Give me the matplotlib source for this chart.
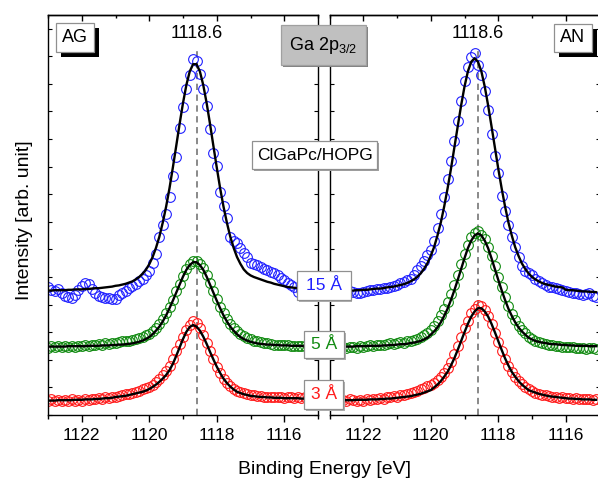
import numpy as np
import matplotlib
matplotlib.use("Agg")
import matplotlib.pyplot as plt
from matplotlib.patches import Rectangle
from matplotlib.ticker import MultipleLocator, FormatStrFormatter

plt.rcParams['font.family'] = ['Liberation Sans', 'DejaVu Sans']
plt.rcParams['mathtext.fontset'] = 'custom'
plt.rcParams['mathtext.rm'] = 'Liberation Sans'
plt.rcParams['mathtext.it'] = 'Liberation Sans:italic'

# ---------------- data ----------------
# binding energy grid (0.1 eV steps), 1123.0 -> 1115.1 eV
energy = np.round(np.arange(1123.0, 1115.05, -0.1), 1)
peak_energy = 1118.6

# AG panel
ag_3A_data = [3.4,3.9,3.5,3.8,3.4,3.7,3.5,3.9,3.6,3.8,
              3.6,4.0,3.8,4.1,3.9,4.2,4.0,4.4,4.3,4.6,
              4.5,4.8,4.9,5.2,5.3,5.6,5.8,6.1,6.4,6.7,
              7.1,7.6,8.2,9.0,9.9,11.0,12.3,13.9,15.9,17.7,
              19.6,21.2,22.6,23.4,23.1,21.8,20.0,18.0,15.9,13.9,
              12.0,10.4,9.0,8.0,7.2,6.6,6.1,5.8,5.5,5.3,
              5.1,4.9,4.8,4.7,4.6,4.6,4.5,4.6,4.4,4.5,
              4.3,4.5,4.4,4.3,4.4,4.2,4.4,4.3,4.2,4.3]
ag_3A_fit = [3.6,3.6,3.6,3.7,3.7,3.7,3.7,3.7,3.8,3.8,
             3.8,3.9,3.9,3.9,4.0,4.0,4.1,4.2,4.2,4.3,
             4.5,4.6,4.7,4.8,5.0,5.2,5.4,5.6,5.8,6.1,
             6.5,7.0,7.6,8.3,9.1,10.0,11.2,12.8,14.8,16.9,
             19.0,20.8,22.0,22.5,22.1,21.1,19.6,17.8,15.8,13.9,
             12.1,10.5,9.1,8.0,7.1,6.4,5.8,5.5,5.2,5.0,
             4.8,4.7,4.6,4.5,4.5,4.4,4.4,4.3,4.3,4.3,
             4.2,4.2,4.2,4.2,4.2,4.1,4.1,4.1,4.1,4.1]
ag_5A_data = [16.8,17.2,17.0,17.3,17.1,17.2,16.9,17.3,17.1,17.3,
              17.2,17.5,17.3,17.6,17.4,17.7,17.6,17.9,17.8,18.0,
              18.1,18.2,18.4,18.5,18.6,18.8,19.0,19.3,19.6,20.0,
              20.3,20.9,21.8,22.8,24.0,25.5,27.1,28.8,30.9,32.8,
              34.8,36.6,37.8,38.6,38.4,37.8,36.7,35.0,33.0,30.9,
              28.9,27.1,25.5,24.1,22.8,21.8,20.9,20.2,19.7,19.3,
              18.9,18.6,18.4,18.2,18.0,17.9,17.8,17.6,17.6,17.5,
              17.4,17.4,17.3,17.3,17.2,17.3,17.2,17.2,17.1,17.2]
ag_5A_fit = [17.1,17.1,17.1,17.1,17.1,17.1,17.2,17.2,17.2,17.2,
             17.2,17.2,17.3,17.3,17.3,17.3,17.4,17.4,17.4,17.5,
             17.5,17.6,17.6,17.7,17.8,17.9,18.1,18.3,18.6,19.0,
             19.5,20.2,21.1,22.1,23.4,24.9,26.7,28.6,30.6,32.6,
             34.6,36.3,37.5,38.2,38.2,37.5,36.3,34.6,32.6,30.6,
             28.6,26.7,24.9,23.4,22.1,21.1,20.2,19.5,19.0,18.6,
             18.3,18.1,17.9,17.8,17.7,17.6,17.6,17.5,17.5,17.4,
             17.4,17.4,17.3,17.3,17.3,17.3,17.2,17.2,17.2,17.2]
ag_15A_data = [32.0,31.3,31.0,31.4,30.6,29.8,29.5,29.2,30.0,31.2,
               32.2,33.0,32.7,31.6,30.4,29.7,29.4,29.3,29.2,29.0,
               29.1,29.9,30.5,31.1,31.8,32.2,32.8,33.5,34.1,34.9,
               36.0,38.0,40.2,44.5,47.4,50.3,54.6,59.8,64.5,71.8,
               77.0,81.6,85.0,88.9,88.4,85.3,81.4,77.3,71.6,65.6,
               62.3,55.8,52.3,49.2,44.6,43.6,43.0,41.8,40.4,39.6,
               38.0,37.7,37.4,37.0,36.6,36.2,35.8,35.4,35.0,34.3,
               33.7,33.0,32.5,32.0,30.8,31.2,31.0,31.2,31.0,31.2]
ag_15A_fit = [31.1,31.1,31.2,31.2,31.2,31.2,31.3,31.3,31.4,31.4,
              31.4,31.5,31.5,31.6,31.7,31.7,31.8,31.9,32.0,32.1,
              32.3,32.4,32.6,32.8,33.1,33.4,33.9,34.5,35.3,36.3,
              37.7,39.5,41.8,44.6,48.1,52.1,56.7,61.9,67.3,72.8,
              78.0,82.5,85.9,87.7,87.7,85.9,82.5,78.0,72.8,67.3,
              61.9,56.7,52.1,48.1,44.6,41.8,39.5,37.8,36.4,35.5,
              34.9,34.5,34.2,33.9,33.6,33.3,33.1,32.8,32.6,32.4,
              32.2,32.0,31.9,31.8,31.7,31.6,31.5,31.5,31.4,31.4]

# AN panel
an_3A_data = [3.5,3.9,3.6,3.4,3.8,3.5,3.9,3.7,3.4,3.8,
              3.6,4.0,3.8,4.1,3.9,4.3,4.1,4.4,4.5,4.7,
              4.6,4.9,5.1,5.3,5.5,5.8,6.1,6.5,6.8,7.2,
              7.5,8.1,8.8,9.6,10.6,11.8,13.3,15.2,17.3,19.5,
              21.7,23.6,25.4,26.6,27.4,27.2,26.2,24.7,22.7,20.5,
              18.2,16.0,14.0,12.2,10.7,9.5,8.5,7.7,7.0,6.4,
              6.0,5.6,5.3,5.1,4.9,4.7,4.5,4.6,4.3,4.4,
              4.2,4.3,4.1,4.2,4.0,4.1,3.9,4.0,3.8,3.9]
an_3A_fit = [3.7,3.7,3.7,3.7,3.7,3.7,3.7,3.7,3.8,3.8,
             3.8,3.8,3.9,3.9,3.9,4.0,4.0,4.1,4.1,4.2,
             4.3,4.4,4.5,4.6,4.7,4.9,5.1,5.3,5.6,5.9,
             6.2,6.9,7.6,8.5,9.6,10.8,12.4,14.2,16.3,18.5,
             20.7,22.8,24.6,25.9,26.7,26.7,25.9,24.6,22.8,20.7,
             18.5,16.3,14.2,12.4,10.8,9.6,8.5,7.6,6.9,6.2,
             5.9,5.6,5.3,5.1,4.9,4.7,4.6,4.5,4.4,4.3,
             4.2,4.1,4.1,4.0,4.0,3.9,3.9,3.9,3.8,3.8]
an_5A_data = [17.3,16.9,17.2,16.8,17.0,16.7,17.1,16.9,16.8,17.2,
              17.0,17.3,17.4,17.2,17.5,17.6,17.4,17.8,17.9,17.7,
              18.1,18.2,18.0,18.4,18.6,18.8,19.1,19.5,20.0,20.6,
              21.3,22.3,23.5,24.9,26.4,28.3,30.3,32.5,35.1,37.7,
              40.3,42.6,44.4,45.6,46.0,45.1,43.9,41.9,39.8,37.2,
              34.5,31.9,29.4,27.2,25.3,23.7,22.3,21.2,20.4,19.6,
              19.1,18.6,18.3,18.0,17.8,17.6,17.5,17.3,17.2,17.1,
              17.0,16.9,16.9,16.8,16.7,16.8,16.6,16.8,16.7,16.6]
an_5A_fit = [17.0,17.1,17.1,17.1,17.1,17.1,17.1,17.1,17.2,17.2,
             17.2,17.2,17.3,17.3,17.3,17.3,17.4,17.4,17.5,17.5,
             17.6,17.7,17.7,17.8,18.0,18.1,18.3,18.5,18.9,19.3,
             20.1,20.9,21.9,23.2,24.8,26.6,28.8,31.2,33.8,36.5,
             39.2,41.7,43.6,44.9,45.4,44.9,43.6,41.7,39.2,36.5,
             33.8,31.2,28.8,26.6,24.8,23.2,21.9,20.9,20.1,19.3,
             18.9,18.5,18.3,18.1,18.0,17.8,17.7,17.7,17.6,17.5,
             17.5,17.4,17.4,17.3,17.3,17.3,17.3,17.2,17.2,17.2]
an_15A_data = [31.0,30.6,31.2,30.8,31.3,30.7,30.9,30.8,30.4,30.6,
               30.8,31.1,31.2,31.3,31.4,31.6,31.7,31.8,31.9,32.2,
               32.5,32.9,33.3,33.7,34.0,35.0,36.3,37.3,38.6,39.9,
               41.2,43.6,46.8,50.3,54.5,59.0,63.6,68.6,73.6,78.6,
               83.5,86.9,89.4,90.5,87.6,85.1,81.0,76.2,70.3,64.8,
               60.6,54.8,50.9,47.4,44.6,41.9,39.6,37.3,36.1,35.4,
               35.0,34.0,33.4,32.9,32.5,32.1,31.9,31.7,31.4,31.2,
               31.0,30.8,30.6,30.4,30.2,30.0,30.3,30.4,29.8,29.6]
an_15A_fit = [30.9,30.9,31.0,31.0,31.0,31.1,31.1,31.1,31.2,31.2,
              31.3,31.3,31.4,31.5,31.6,31.6,31.7,31.9,32.0,32.1,
              32.3,32.5,32.7,33.0,33.4,33.9,34.5,35.4,36.5,37.9,
              39.8,42.0,44.9,48.2,52.2,56.7,61.6,66.9,72.2,77.4,
              82.1,85.9,88.3,89.2,88.3,85.9,82.1,77.4,72.2,66.9,
              61.6,56.7,52.2,48.2,44.9,42.0,39.8,37.9,36.5,35.4,
              34.5,33.9,33.4,33.0,32.7,32.5,32.3,32.1,32.0,31.9,
              31.3,31.2,31.2,31.1,31.0,30.9,30.9,30.8,30.8,30.7]

thickness_labels = ["3 \u00c5", "5 \u00c5", "15 \u00c5"]
series_colors = ["#ff1a1a", "#108a10", "#2020ff"]
panel_labels = ["AG", "AN"]

# ---------------- figure ----------------
W, H = 598, 479
fig = plt.figure(figsize=(W / 100, H / 100), dpi=100)


def fx(px):
    return px / W


def fy(py):
    return 1 - py / H


axL = fig.add_axes([fx(48), fy(415), 270 / W, 400 / H])
axR = fig.add_axes([fx(329.5), fy(415), 270 / W, 400 / H])

panel_series = [
    [(ag_3A_data, ag_3A_fit), (ag_5A_data, ag_5A_fit), (ag_15A_data, ag_15A_fit)],
    [(an_3A_data, an_3A_fit), (an_5A_data, an_5A_fit), (an_15A_data, an_15A_fit)],
]

for ax, series in zip([axL, axR], panel_series):
    ax.set_xlim(1123, 1115)
    ax.set_ylim(0, 100)
    ax.axvline(peak_energy, ymin=0, ymax=0.915, color="#808080",
               ls=(0, (3.5, 2.5)), lw=1.3, zorder=1)
    for (dat, fit), col in zip(series, series_colors):
        ax.plot(energy, dat, "o", mfc="none", mec=col, ms=7, mew=0.8, zorder=2)
        ax.plot(energy, fit, "-", color="black", lw=1.7, zorder=3)
    ax.text(peak_energy, 95.5, f"{peak_energy:.1f}", ha="center", va="center",
            fontsize=13)
    ax.xaxis.set_major_locator(MultipleLocator(2))
    ax.xaxis.set_minor_locator(MultipleLocator(1))
    ax.xaxis.set_major_formatter(FormatStrFormatter("%d"))
    ax.tick_params(axis="x", which="major", direction="out", length=5, width=1,
                   labelsize=12.5, pad=4, colors="black")
    ax.tick_params(axis="x", which="minor", direction="out", length=3, width=1)
    ax.yaxis.set_major_locator(MultipleLocator(6.9))
    ax.tick_params(axis="y", which="major", direction="in", length=3, width=0.8,
                   left=True, right=True, labelleft=False, labelright=False)
    for s in ax.spines.values():
        s.set_linewidth(1.0)
    sec = ax.secondary_xaxis("top")
    sec.xaxis.set_major_locator(MultipleLocator(2))
    sec.xaxis.set_minor_locator(MultipleLocator(1))
    sec.tick_params(axis="x", which="major", direction="in", length=4, width=1,
                    labeltop=False)
    sec.tick_params(axis="x", which="minor", direction="in", length=2.5, width=1)
    sec.spines["top"].set_linewidth(1.0)

fig.text(fx(324.5), fy(469), "Binding Energy [eV]", ha="center", va="center",
         fontsize=14)
fig.text(fx(25), fy(220), "Intensity [arb. unit]", ha="center", va="center",
         fontsize=14, rotation=90)


def box(x0, y0, x1, y1, text, face="white", edge="#909090", shadow=None,
        off=2.0, color="black", fontsize=13, z=20):
    if shadow is not None:
        fig.add_artist(Rectangle((fx(x0 + off), fy(y1 + off)), (x1 - x0) / W,
                                 (y1 - y0) / H, transform=fig.transFigure,
                                 facecolor=shadow, edgecolor="none", zorder=z))
    fig.add_artist(Rectangle((fx(x0), fy(y1)), (x1 - x0) / W, (y1 - y0) / H,
                             transform=fig.transFigure, facecolor=face,
                             edgecolor=edge, lw=0.9, zorder=z + 1))
    fig.text(fx((x0 + x1) / 2), fy((y0 + y1) / 2), text, ha="center",
             va="center", fontsize=fontsize, color=color, zorder=z + 2)


box(55.7, 23, 94, 52, panel_labels[0], shadow="black", off=5)
box(554, 24, 591.7, 52, panel_labels[1], shadow="black", off=5)
box(281, 25, 366, 65, r"Ga 2p$_\mathregular{3/2}$", face="#c0c0c0",
    edge="#a0a0a0", shadow="#808080", off=2)
box(252.3, 140.7, 376.7, 169.3, "ClGaPc/HOPG", shadow="#a0a0a0", off=2,
    fontsize=12.5)
box(297.3, 271, 350.7, 300, thickness_labels[2], color=series_colors[2],
    shadow="#b0b0b0", off=1.5, fontsize=12.5)
box(304.3, 331, 344, 358.3, thickness_labels[1], color=series_colors[1],
    shadow="#b0b0b0", off=1.5, fontsize=12.5)
box(304, 380, 343.3, 409.3, thickness_labels[0], color=series_colors[0],
    shadow="#b0b0b0", off=1.5, fontsize=12.5)

fig.savefig("out.png", dpi=100)
